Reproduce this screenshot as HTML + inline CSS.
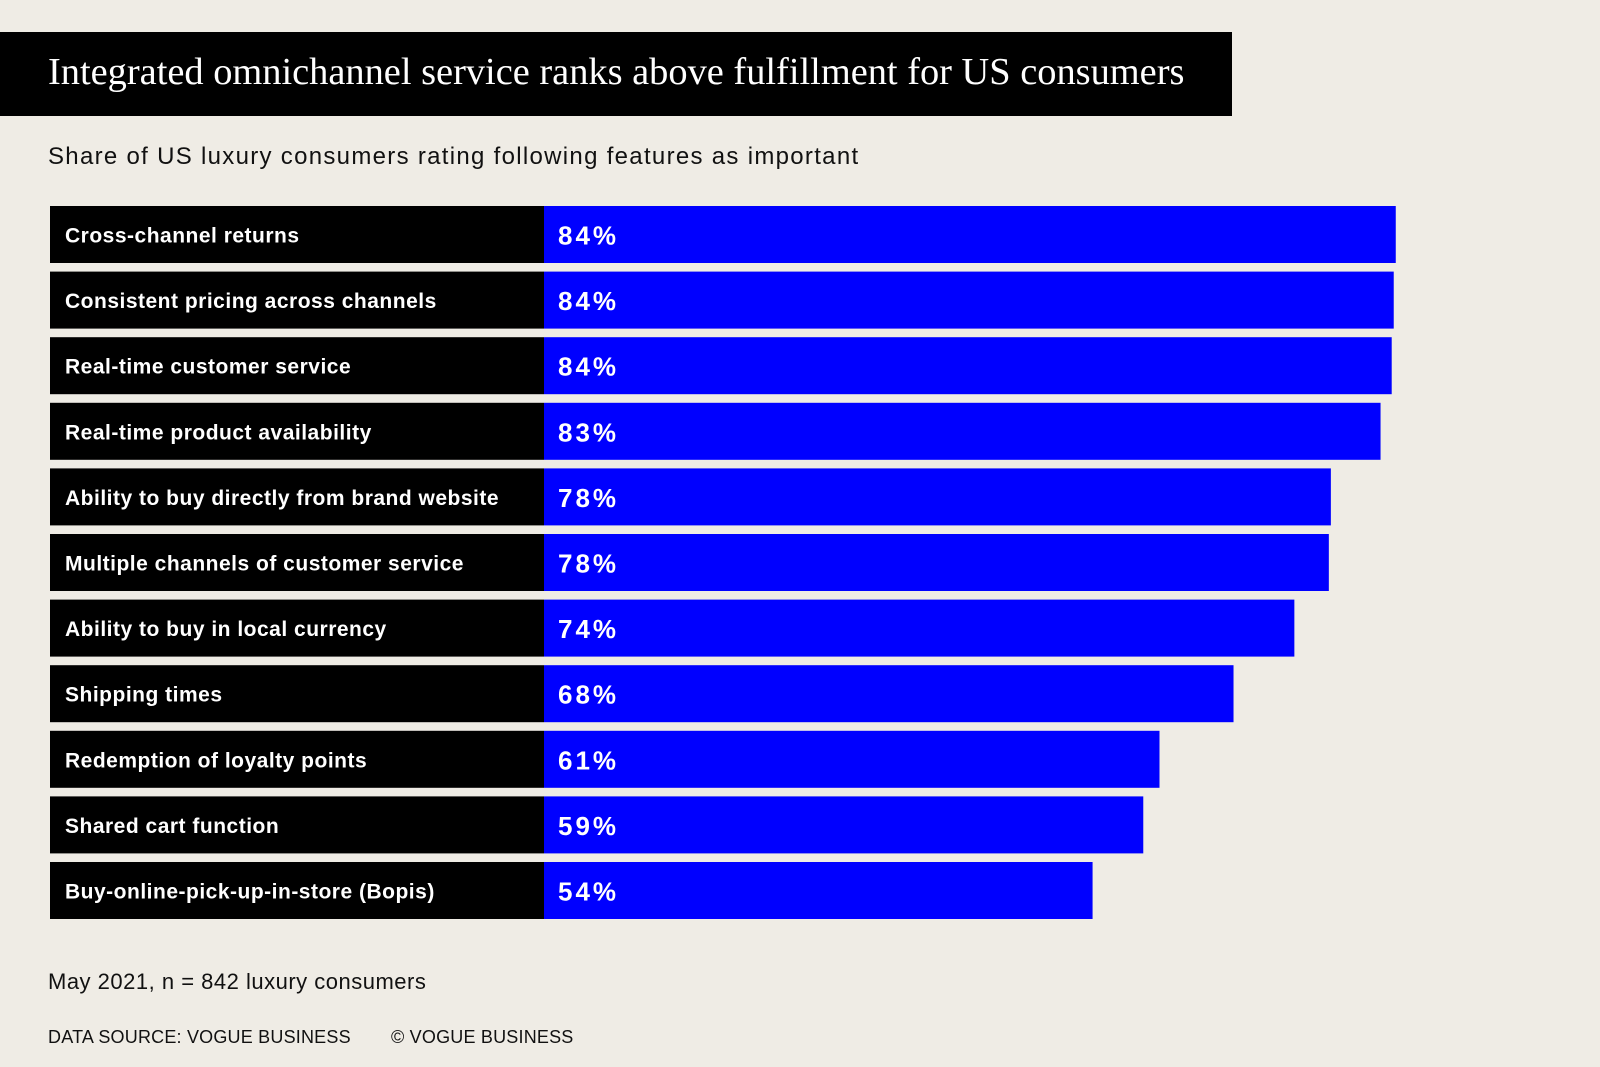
<!DOCTYPE html>
<html><head><meta charset="utf-8"><style>
body{margin:0;width:1600px;height:1067px;background:#efece5;position:relative;overflow:hidden;font-family:"Liberation Sans",sans-serif}
#title{position:absolute;left:0;top:32px;width:1232px;height:84px;background:#000}
#title span{position:absolute;left:48px;top:18px;color:#fff;font-family:"Liberation Serif",serif;font-size:38.4px;letter-spacing:0px;white-space:nowrap}
#sub{position:absolute;left:48px;top:143px;font-size:24px;letter-spacing:1.3px;color:#111;white-space:nowrap}
.t{position:absolute;white-space:nowrap;color:#111}
</style></head><body>
<div id="title"><span>Integrated omnichannel service ranks above fulfillment for US consumers</span></div>
<div id="sub">Share of US luxury consumers rating following features as important</div>
<svg id="chart" width="1600" height="1067" style="position:absolute;left:0;top:0"></svg>
<div class="t" style="left:48px;top:969px;font-size:22px;letter-spacing:0.5px">May 2021, n = 842 luxury consumers</div>
<div class="t" style="left:48px;top:1027px;font-size:18px;letter-spacing:0.2px">DATA SOURCE: VOGUE BUSINESS</div>
<div class="t" style="left:391px;top:1027px;font-size:18px;letter-spacing:0.2px">© VOGUE BUSINESS</div>
<script>
const categories=["Cross-channel returns","Consistent pricing across channels","Real-time customer service","Real-time product availability","Ability to buy directly from brand website","Multiple channels of customer service","Ability to buy in local currency","Shipping times","Redemption of loyalty points","Shared cart function","Buy-online-pick-up-in-store (Bopis)"];
const values=[84.0,83.8,83.6,82.5,77.6,77.4,74.0,68.0,60.7,59.1,54.1];
const labels=["84%","84%","84%","83%","78%","78%","74%","68%","61%","59%","54%"];
const NS="http://www.w3.org/2000/svg";
const svg=document.getElementById('chart');
const x0=544,pxPer=10.14;
const xs=v=>x0+v*pxPer;
const ys=i=>206+i*65.6;
const bh=57;
categories.forEach((c,i)=>{
  const y=ys(i);
  const lb=document.createElementNS(NS,'rect');
  lb.setAttribute('x',50);lb.setAttribute('y',y);lb.setAttribute('width',x0-50);lb.setAttribute('height',bh);lb.setAttribute('fill','#000');
  
  
  svg.appendChild(lb);
  const r=document.createElementNS(NS,'rect');
  r.setAttribute('x',x0);r.setAttribute('y',y);r.setAttribute('width',xs(values[i])-x0);r.setAttribute('height',bh);r.setAttribute('fill','#0000ff');
  
  
  svg.appendChild(r);
  const t=document.createElementNS(NS,'text');
  t.setAttribute('x',65);t.setAttribute('y',y+bh/2+8);t.setAttribute('fill','#fff');t.setAttribute('font-size','21');t.setAttribute('font-weight','bold');
  t.setAttribute('font-family','Liberation Sans, sans-serif');t.setAttribute('letter-spacing','0.5');
  t.textContent=c;
  
  
  svg.appendChild(t);
  const v=document.createElementNS(NS,'text');
  v.setAttribute('x',558);v.setAttribute('y',y+bh/2+10);v.setAttribute('fill','#fff');v.setAttribute('font-size','26');v.setAttribute('font-weight','bold');
  v.setAttribute('font-family','Liberation Sans, sans-serif');v.setAttribute('letter-spacing','3');
  v.textContent=labels[i];
  
  
  svg.appendChild(v);
});
</script>
</body></html>
